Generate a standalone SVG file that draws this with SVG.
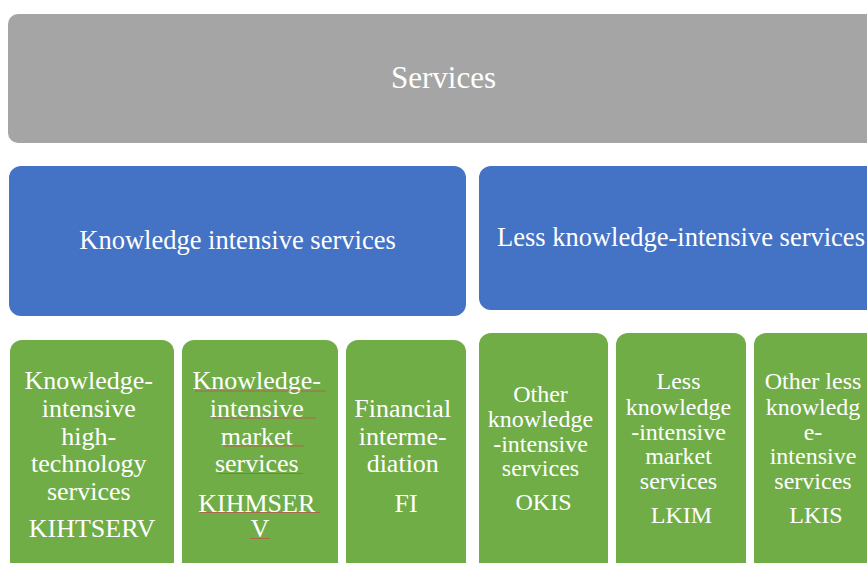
<svg xmlns="http://www.w3.org/2000/svg" width="867" height="563" viewBox="0 0 867 563">
  <style>
    .gray { fill: #A5A5A5; }
    .blue { fill: #4472C4; }
    .green { fill: #70AD47; }
    .lbl { fill: #FFFFFF; text-anchor: middle; font-family: 'Liberation Serif', serif; }
    .t-top { font-size: 31px; }
    .t-mid { font-size: 26.5px; }
    .t-gl { font-size: 26px; }
    .t-gr { font-size: 24px; }
    .spell { stroke: #C0504D; stroke-width: 0.9; fill: none; opacity: 0.8; }
  </style>
  <rect width="867" height="563" fill="#FFFFFF"/>
  <g id="connectors"/>
  <g id="services">
    <rect class="gray" x="8" y="14" width="871" height="129" rx="10"/>
    <text class="lbl t-top" x="443.5" y="88">Services</text>
  </g>
  <g id="knowledge-intensive-services">
    <rect class="blue" x="9" y="166" width="457" height="150" rx="12"/>
    <text class="lbl t-mid" x="237.5" y="249">Knowledge intensive services</text>
  </g>
  <g id="less-knowledge-intensive-services">
    <rect class="blue" x="479" y="166" width="400" height="144" rx="12"/>
    <text class="lbl t-mid" x="497" y="246" style="text-anchor:start">Less knowledge-intensive services</text>
  </g>
  <g id="kihtserv">
    <rect class="green" x="10" y="340" width="164" height="235" rx="12"/>
    <text class="lbl t-gl">
      <tspan x="92" y="389">Knowledge-</tspan>
      <tspan x="92" y="417">intensive</tspan>
      <tspan x="92" y="445">high-</tspan>
      <tspan x="92" y="472">technology</tspan>
      <tspan x="92" y="500">services</tspan>
      <tspan x="92" y="537">KIHTSERV</tspan>
    </text>
  </g>
  <g id="kihmserv">
    <rect class="green" x="182" y="340" width="156" height="235" rx="12"/>
    <text class="lbl t-gl">
      <tspan x="260" y="389">Knowledge-</tspan>
      <tspan x="260" y="417">intensive</tspan>
      <tspan x="260" y="445">market</tspan>
      <tspan x="260" y="472">services</tspan>
      <tspan x="260" y="512">KIHMSER</tspan>
      <tspan x="260" y="537">V</tspan>
    </text>
    <path class="spell" d="M195 391H326M213 418H316M224 446H304M218 473.5H303M200 512.5H320M250 538.5H270"/>
  </g>
  <g id="fi">
    <rect class="green" x="346" y="340" width="120" height="235" rx="12"/>
    <text class="lbl t-gl">
      <tspan x="406" y="417">Financial</tspan>
      <tspan x="406" y="445">interme-</tspan>
      <tspan x="406" y="472">diation</tspan>
      <tspan x="406" y="512">FI</tspan>
    </text>
  </g>
  <g id="okis">
    <rect class="green" x="479" y="333" width="129" height="242" rx="12"/>
    <text class="lbl t-gr">
      <tspan x="543.5" y="402">Other</tspan>
      <tspan x="543.5" y="427">knowledge</tspan>
      <tspan x="543.5" y="452">-intensive</tspan>
      <tspan x="543.5" y="476">services</tspan>
      <tspan x="543.5" y="510">OKIS</tspan>
    </text>
  </g>
  <g id="lkim">
    <rect class="green" x="616" y="333" width="130" height="242" rx="12"/>
    <text class="lbl t-gr">
      <tspan x="681.5" y="389">Less</tspan>
      <tspan x="681.5" y="415">knowledge</tspan>
      <tspan x="681.5" y="439.5">-intensive</tspan>
      <tspan x="681.5" y="464">market</tspan>
      <tspan x="681.5" y="488.5">services</tspan>
      <tspan x="681.5" y="523">LKIM</tspan>
    </text>
  </g>
  <g id="lkis">
    <rect class="green" x="754" y="333" width="124" height="242" rx="12"/>
    <text class="lbl t-gr">
      <tspan x="816" y="389">Other less</tspan>
      <tspan x="816" y="415">knowledg</tspan>
      <tspan x="816" y="439.5">e-</tspan>
      <tspan x="816" y="464">intensive</tspan>
      <tspan x="816" y="488.5">services</tspan>
      <tspan x="816" y="523">LKIS</tspan>
    </text>
  </g>
</svg>
